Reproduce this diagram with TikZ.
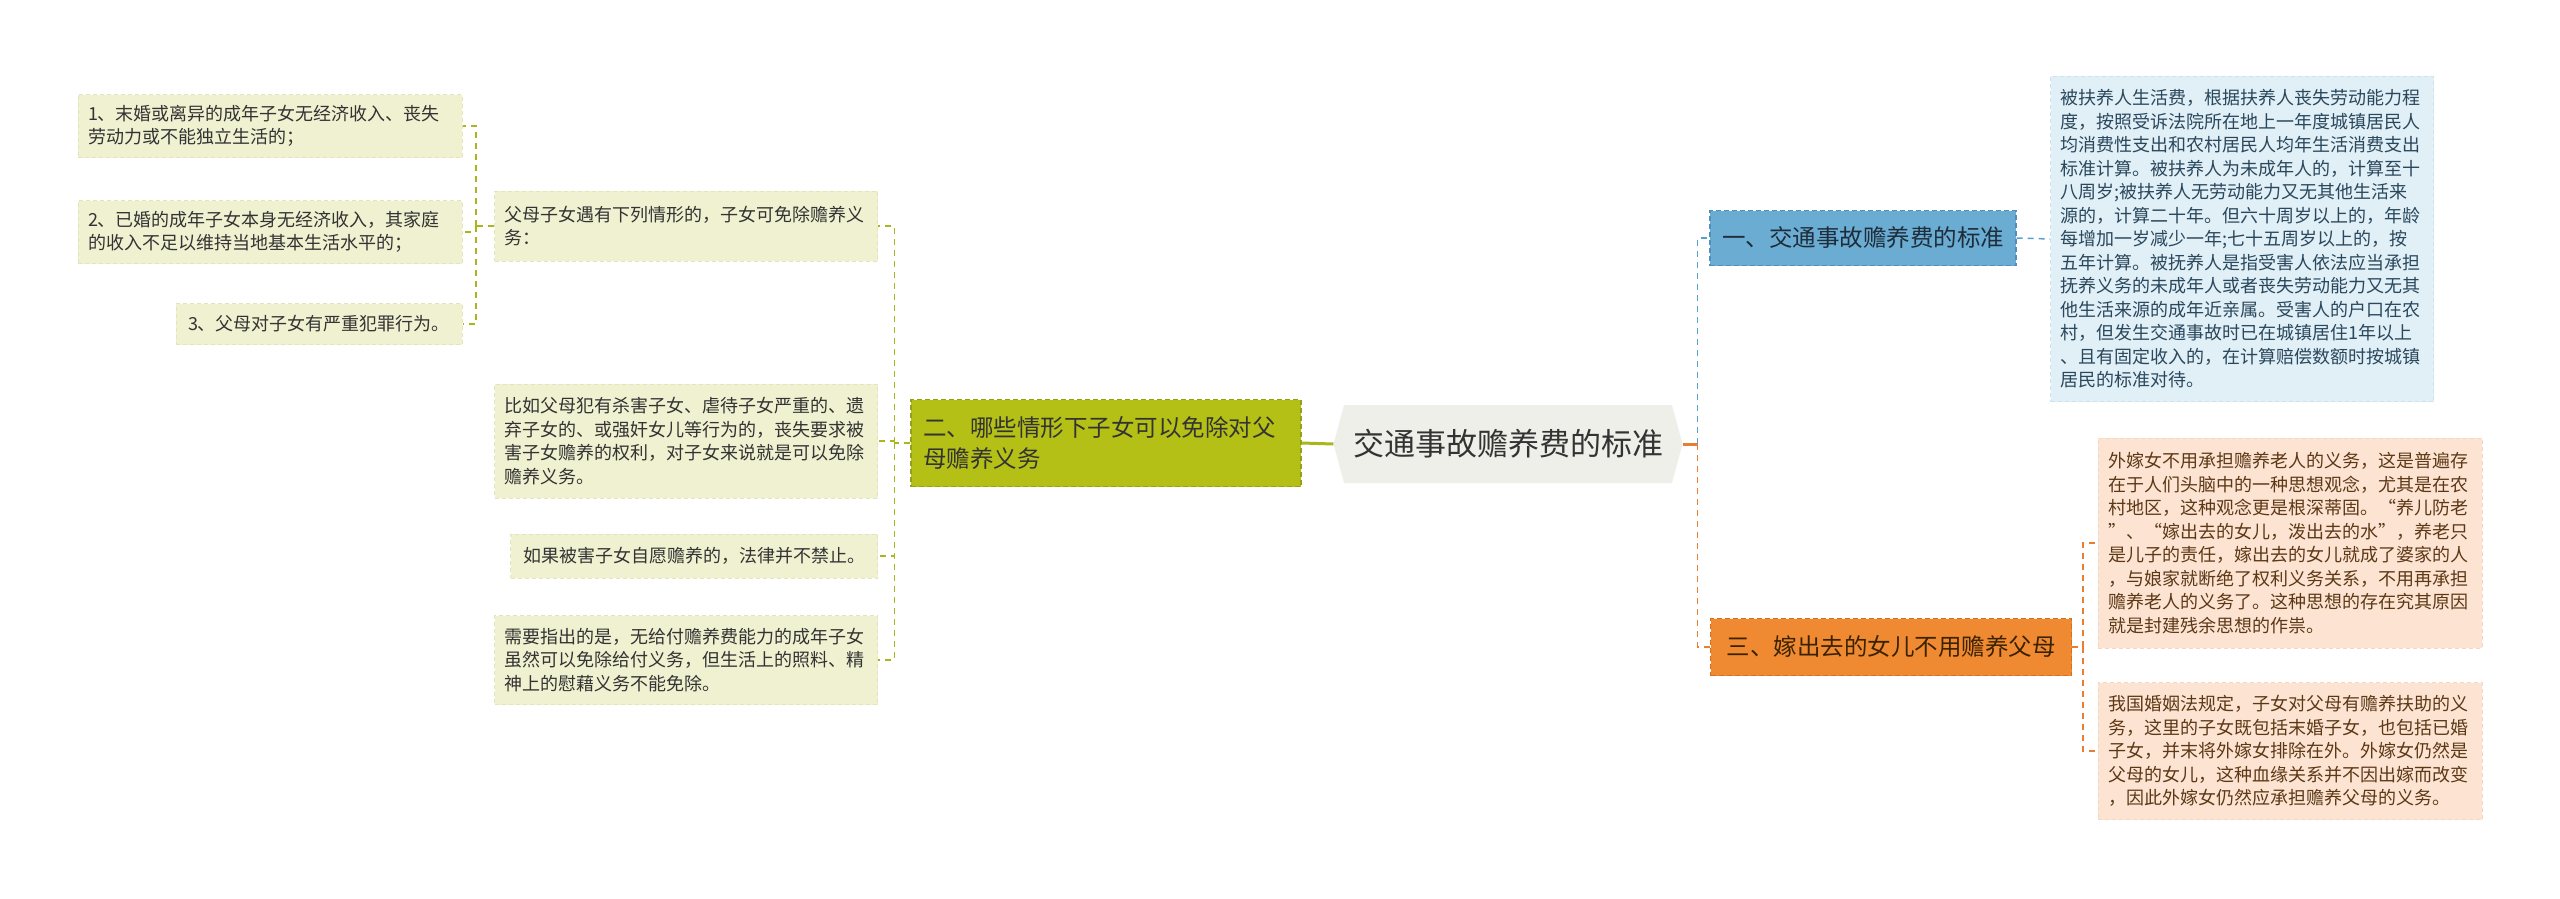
\documentclass[tikz,border=0pt]{standalone}
\usepackage{fontspec}
\newfontfamily\cjk{Noto Sans CJK SC}
\usepackage{xcolor}
\usepackage{tikz}
\usetikzlibrary{shapes.symbols}

\definecolor{rootbg}{RGB}{239,239,233}
\definecolor{olivebg}{RGB}{181,192,23}
\definecolor{olivedk}{RGB}{150,160,20}
\definecolor{oliveln}{RGB}{170,182,30}
\definecolor{olivelf}{RGB}{240,241,209}
\definecolor{olivelfbd}{RGB}{226,229,186}
\definecolor{bluebg}{RGB}{107,172,211}
\definecolor{bluedk}{RGB}{78,143,191}
\definecolor{blueln}{RGB}{90,160,205}
\definecolor{bluelf}{RGB}{225,239,247}
\definecolor{bluelfbd}{RGB}{205,225,238}
\definecolor{bluetx}{RGB}{42,72,92}
\definecolor{orangebg}{RGB}{240,138,50}
\definecolor{orangedk}{RGB}{215,112,30}
\definecolor{orangeln}{RGB}{232,126,50}
\definecolor{orangelf}{RGB}{253,228,210}
\definecolor{orangelfbd}{RGB}{245,214,192}
\definecolor{orangetx}{RGB}{92,56,22}
\definecolor{darktx}{RGB}{51,51,51}

\begin{document}
\begin{tikzpicture}[x=1pt, y=-1pt,
    leaf/.style={font=\cjk\fontsize{18}{23.5}\selectfont, align=left, inner xsep=10pt, inner ysep=0pt,
        line width=1pt, dash pattern=on 4pt off 3pt},
    lleaf/.style={leaf, fill=olivelf, draw=olivelfbd, text=darktx},
    bleaf/.style={leaf, fill=bluelf, draw=bluelfbd, text=bluetx},
    oleaf/.style={leaf, fill=orangelf, draw=orangelfbd, text=orangetx},
    topic/.style={font=\cjk\fontsize{23.5}{31}\selectfont, align=left, inner xsep=12pt, inner ysep=0pt,
        line width=1.2pt, dash pattern=on 5pt off 3pt},
    lline/.style={draw=oliveln, line width=1.5pt, dash pattern=on 6pt off 5pt},
    bline/.style={draw=blueln, line width=1.5pt, dash pattern=on 6pt off 5pt},
    oline/.style={draw=orangeln, line width=1.5pt, dash pattern=on 6pt off 5pt},
]
    \fill[white] (0,0) rectangle (2560,899);
    \useasboundingbox (0,0) rectangle (2560,899);

    \node[signal, signal to=west and east, signal pointer angle=150, fill=rootbg, text=darktx,
        font=\cjk\fontsize{31}{36}\selectfont, inner xsep=9pt, minimum height=78pt] (root) at (1508,444) {交通事故赡养费的标准};

    \node[topic, fill=olivebg, draw=olivedk, text=darktx, text width=366pt, minimum height=87pt] (two) at (1106,443)
        {二、哪些情形下子女可以免除对父\\母赡养义务};
    \node[topic, fill=bluebg, draw=bluedk, text={rgb,255:red,30;green,45;blue,58}, minimum width=304pt, minimum height=55pt] (one) at (1863,238)
        {一、交通事故赡养费的标准};
    \node[topic, fill=orangebg, draw=orangedk, text={rgb,255:red,59;green,34;blue,0}, minimum width=361pt, minimum height=57pt] (three) at (1891,647)
        {三、嫁出去的女儿不用赡养父母};

    \node[lleaf, text width=363pt, minimum height=70pt] (p) at (686,226)
        {父母子女遇有下列情形的，子女可免除赡养义\\务：};
    \node[lleaf, text width=363pt, minimum height=114pt] (c1) at (686,441)
        {比如父母犯有杀害子女、虐待子女严重的、遗\\弃子女的、或强奸女儿等行为的，丧失要求被\\害子女赡养的权利，对子女来说就是可以免除\\赡养义务。};
    \node[lleaf, minimum width=367pt, minimum height=44pt] (c2) at (694,556)
        {如果被害子女自愿赡养的，法律并不禁止。};
    \node[lleaf, text width=363pt, minimum height=89pt] (c3) at (686,660)
        {需要指出的是，无给付赡养费能力的成年子女\\虽然可以免除给付义务，但生活上的照料、精\\神上的慰藉义务不能免除。};

    \node[lleaf, text width=364pt, minimum height=63pt] (i1) at (270,126)
        {1、末婚或离异的成年子女无经济收入、丧失\\劳动力或不能独立生活的；};
    \node[lleaf, text width=364pt, minimum height=63pt] (i2) at (270,232)
        {2、已婚的成年子女本身无经济收入，其家庭\\的收入不足以维持当地基本生活水平的；};
    \node[lleaf, minimum width=286pt, minimum height=41pt] (i3) at (319,324)
        {3、父母对子女有严重犯罪行为。};

    \node[bleaf, text width=364pt, inner xsep=9.5pt, minimum height=325pt] (b) at (2242,239)
        {被扶养人生活费，根据扶养人丧失劳动能力程\\度，按照受诉法院所在地上一年度城镇居民人\\均消费性支出和农村居民人均年生活消费支出\\标准计算。被扶养人为未成年人的，计算至十\\八周岁;被扶养人无劳动能力又无其他生活来\\源的，计算二十年。但六十周岁以上的，年龄\\每增加一岁减少一年;七十五周岁以上的，按\\五年计算。被抚养人是指受害人依法应当承担\\抚养义务的未成年人或者丧失劳动能力又无其\\他生活来源的成年近亲属。受害人的户口在农\\村，但发生交通事故时已在城镇居住1年以上\\、且有固定收入的，在计算赔偿数额时按城镇\\居民的标准对待。};

    \node[oleaf, text width=364pt, minimum height=210pt] (o1) at (2290,543)
        {外嫁女不用承担赡养老人的义务，这是普遍存\\在于人们头脑中的一种思想观念，尤其是在农\\村地区，这种观念更是根深蒂固。“养儿防老\\”、“嫁出去的女儿，泼出去的水”，养老只\\是儿子的责任，嫁出去的女儿就成了婆家的人\\，与娘家就断绝了权利义务关系，不用再承担\\赡养老人的义务了。这种思想的存在究其原因\\就是封建残余思想的作祟。};
    \node[oleaf, text width=364pt, minimum height=137pt] (o2) at (2290,751)
        {我国婚姻法规定，子女对父母有赡养扶助的义\\务，这里的子女既包括末婚子女，也包括已婚\\子女，并末将外嫁女排除在外。外嫁女仍然是\\父母的女儿，这种血缘关系并不因出嫁而改变\\，因此外嫁女仍然应承担赡养父母的义务。};

    \draw[draw=oliveln, line width=3pt] (root.west) -- (two.east);
    \draw[lline] (two.west) -- ++(-16,0) coordinate (lbus);
    \draw[lline] (lbus) |- (p.east);
    \draw[lline] (lbus) |- (c1.east);
    \draw[lline] (lbus) |- (c2.east);
    \draw[lline] (lbus) |- (c3.east);
    \draw[lline] (p.west) -- ++(-18,0) coordinate (pbus);
    \draw[lline] (pbus) |- (i1.east);
    \draw[lline] (pbus) |- (i2.east);
    \draw[lline] (pbus) |- (i3.east);

    \draw[draw=orangeln, line width=3pt] (root.east) -- ++(15,0) coordinate (rbus);
    \draw[bline] (rbus) |- (one.west);
    \draw[oline] (rbus) |- (three.west);
    \draw[bline] (one.east) -- (b.west);
    \draw[oline] (three.east) -- ++(11,0) coordinate (obus);
    \draw[oline] (obus) |- (o1.west);
    \draw[oline] (obus) |- (o2.west);
\end{tikzpicture}
\end{document}
